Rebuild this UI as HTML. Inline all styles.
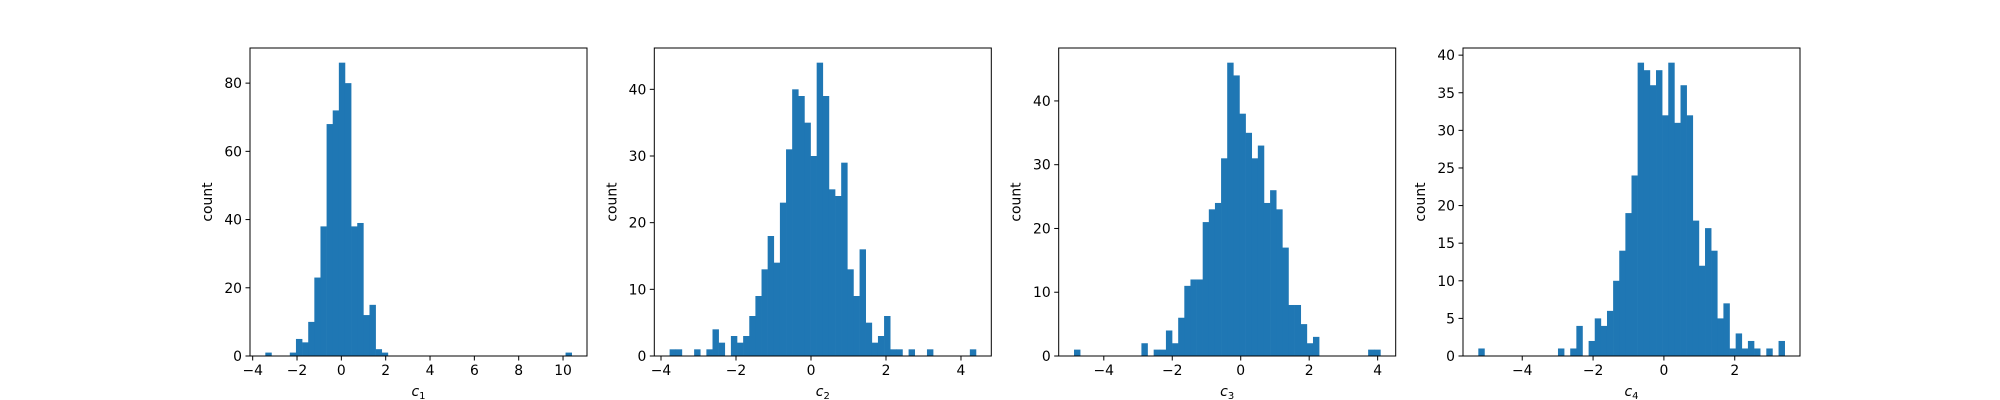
<!DOCTYPE html>
<html><head><meta charset="utf-8"><style>
body{margin:0;background:#fff;}
svg{display:block;font-family:"DejaVu Sans","Liberation Sans",sans-serif;}
</style></head><body>
<svg id="fig" width="2000" height="400" viewBox="0 0 2000 400" xmlns="http://www.w3.org/2000/svg"></svg>
<script>
const counts1=[1,0,0,0,1,5,4,10,23,38,68,72,86,80,38,39,12,15,2,1,0,0,0,0,0,0,0,0,0,0,0,0,0,0,0,0,0,0,0,0,0,0,0,0,0,0,0,0,0,1];
const counts2=[1,1,0,0,1,0,1,4,2,0,3,2,3,6,9,13,18,14,23,31,40,39,35,30,44,39,25,24,29,13,9,16,5,2,3,6,1,1,0,1,0,0,1,0,0,0,0,0,0,1];
const counts3=[1,0,0,0,0,0,0,0,0,0,0,2,0,1,1,4,2,6,11,12,12,21,23,24,31,46,44,38,35,31,33,24,26,23,17,8,8,5,2,3,0,0,0,0,0,0,0,0,1,1];
const counts4=[1,0,0,0,0,0,0,0,0,0,0,0,0,1,0,1,4,0,2,5,4,6,10,14,19,24,39,38,36,38,32,39,31,36,32,18,12,17,14,5,7,1,3,1,2,1,0,1,0,2];
const ranges=[[-3.43,10.39],[-3.77,4.40],[-4.87,4.08],[-5.24,3.41]];
const xticks1=[-4,-2,0,2,4,6,8,10];
const xticks2=[-4,-2,0,2,4];
const xticks3=[-4,-2,0,2,4];
const xticks4=[-4,-2,0,2];
const yticks1=[0,20,40,60,80];
const yticks2=[0,10,20,30,40];
const yticks3=[0,10,20,30,40];
const yticks4=[0,5,10,15,20,25,30,35,40];
const labels=["1","2","3","4"];

const NS="http://www.w3.org/2000/svg";
const svg=document.getElementById('fig');
function mk(tag,attrs,parent){const e=document.createElementNS(NS,tag);for(const k in attrs)e.setAttribute(k,attrs[k]);parent.appendChild(e);return e;}
const lefts=[250,654.3,1058.7,1463];
const W=337,T=48,H=308,B=T+H;
const allCounts=[counts1,counts2,counts3,counts4];
const allX=[xticks1,xticks2,xticks3,xticks4];
const allY=[yticks1,yticks2,yticks3,yticks4];
allCounts.forEach((counts,p)=>{
  const L=lefts[p];
  const g=mk('g',{},svg);
  
  
  const [mn,mx]=ranges[p];
  const span=mx-mn;
  const x0=mn-0.05*span,x1=mx+0.05*span;
  const ymax=Math.max(...counts)*1.05;
  const sx=v=>L+(v-x0)/(x1-x0)*W;
  const sy=v=>B-v/ymax*H;
  const bw=span/counts.length;
  counts.forEach((c,i)=>{
    if(c<=0)return;
    const a=sx(mn+i*bw),b=sx(mn+(i+1)*bw);
    const r=mk('rect',{x:a,y:sy(c),width:b-a+0.3,height:B-sy(c),fill:'#1f77b4'},g);
    
    
  });
  const fr=mk('rect',{x:L,y:T,width:W,height:H,fill:'none',stroke:'#000','stroke-width':1},g);
  
  
  allX[p].forEach(t=>{
    const x=sx(t);
    mk('line',{x1:x,y1:B,x2:x,y2:B+4.5,stroke:'#000','stroke-width':1},g);
    const tx=mk('text',{x:x,y:B+19,'font-size':13.9,'text-anchor':'middle',fill:'#000'},g);
    tx.textContent=(t<0?'\u2212'+(-t):''+t);
    
    
  });
  allY[p].forEach(t=>{
    const y=sy(t);
    mk('line',{x1:L,y1:y,x2:L-4.5,y2:y,stroke:'#000','stroke-width':1},g);
    const tx=mk('text',{x:L-8,y:y+5,'font-size':13.9,'text-anchor':'end',fill:'#000'},g);
    tx.textContent=''+t;
    
    
  });
  const xl=mk('text',{x:L+W/2,y:B+40,'font-size':14,'text-anchor':'middle','font-style':'italic',fill:'#000'},g);
  xl.textContent='c';
  const sub=mk('tspan',{'font-size':10,'font-style':'normal',dy:3},xl);
  sub.textContent=labels[p];
  
  
  const yx=L-38,yy=T+H/2;
  const yl=mk('text',{x:yx,y:yy,'font-size':13.9,'text-anchor':'middle',fill:'#000',transform:'rotate(-90 '+yx+' '+yy+')'},g);
  yl.textContent='count';
  
  
});
</script>
</body></html>
